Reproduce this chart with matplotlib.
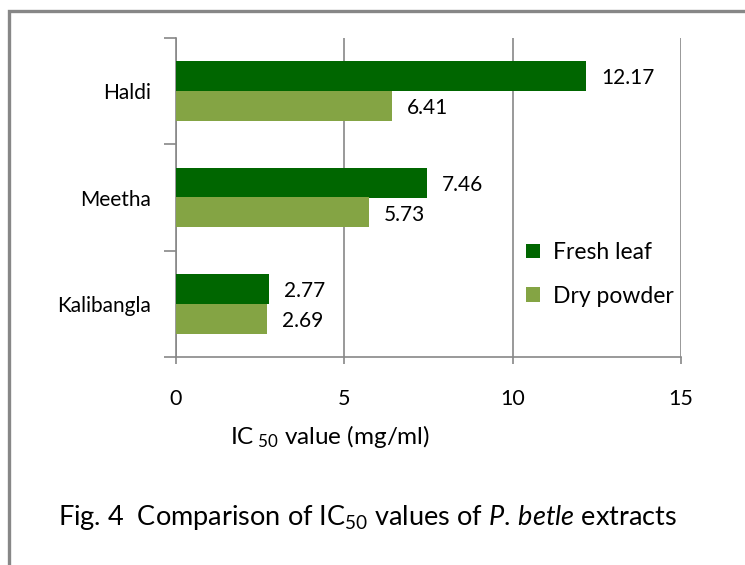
import matplotlib
matplotlib.use('Agg')
import matplotlib.pyplot as plt
import numpy as np
from matplotlib.patches import Rectangle

# Datos (de abajo hacia arriba)
variedades = ['Kalibangla', 'Meetha', 'Haldi']
hoja_fresca = [2.77, 7.46, 12.17]
polvo_seco = [2.69, 5.73, 6.41]
series = ['Fresh leaf', 'Dry powder']
ticks_x = [0, 5, 10, 15]

fuente = 'Lato'
plt.rcParams['font.family'] = [fuente, 'DejaVu Sans']
plt.rcParams['mathtext.fontset'] = 'custom'
plt.rcParams['mathtext.rm'] = fuente
plt.rcParams['mathtext.it'] = fuente + ':italic'

gris = '#878787'
verde_osc = '#006600'
verde_cl = '#84a444'

fig = plt.figure(figsize=(7.45, 5.65), dpi=100)
ax = fig.add_axes([176/745, 1-357/565, 505/745, 319/565])

y = np.arange(len(variedades))
h = 0.28
b1 = ax.barh(y + h/2, hoja_fresca, height=h, color=verde_osc, label=series[0], zorder=3)
b2 = ax.barh(y - h/2, polvo_seco, height=h, color=verde_cl, label=series[1], zorder=3)

for barras, vals in [(b1, hoja_fresca), (b2, polvo_seco)]:
    for r, v in zip(barras, vals):
        ax.text(v + 0.45, r.get_y() + r.get_height()/2 - 0.02, f'{v:.2f}',
                va='center', ha='left', fontsize=15, color='black')

ax.set_xlim(0, 15)
ax.set_ylim(-0.5, 2.5)
ax.set_xticks(ticks_x)
ax.set_xticklabels([str(t) for t in ticks_x], fontsize=15.5)
ax.set_yticks(y)
ax.set_yticklabels(variedades, fontsize=15)
ax.set_yticks([-0.5, 0.5, 1.5, 2.5], minor=True)
ax.tick_params(axis='y', which='major', length=0, pad=18)
ax.tick_params(axis='y', which='minor', length=9, color=gris, width=1.2)
ax.tick_params(axis='x', length=5, color=gris, width=1.2, pad=18)

ax.grid(axis='x', color=gris, linewidth=1.2, zorder=0)
for s in ['top', 'right']:
    ax.spines[s].set_visible(False)
for s in ['left', 'bottom']:
    ax.spines[s].set_color(gris)
    ax.spines[s].set_linewidth(1.2)

ax.legend(loc='upper left', bbox_to_anchor=(0.652, 0.425), frameon=False,
          fontsize=16.5, handlelength=0.62, handleheight=0.62, handletextpad=0.55,
          labelspacing=1.0)

fig.text(330/745, 1-437/565, r'IC$_{\ 50}$ value (mg/ml)', ha='center', va='center', fontsize=17.5)
fig.text(367/745, 1-518/565, r'Fig. 4  Comparison of IC$_{50}$ values of $\it{P.\,betle}$ extracts',
         ha='center', va='center', fontsize=19.5)

# Marco exterior
fig.patches.append(Rectangle((9/745, -0.1), 1.2, 1 - 11/565 + 0.1, transform=fig.transFigure,
                             fill=False, edgecolor=gris, linewidth=2.4))

fig.savefig('out.png', dpi=100)
